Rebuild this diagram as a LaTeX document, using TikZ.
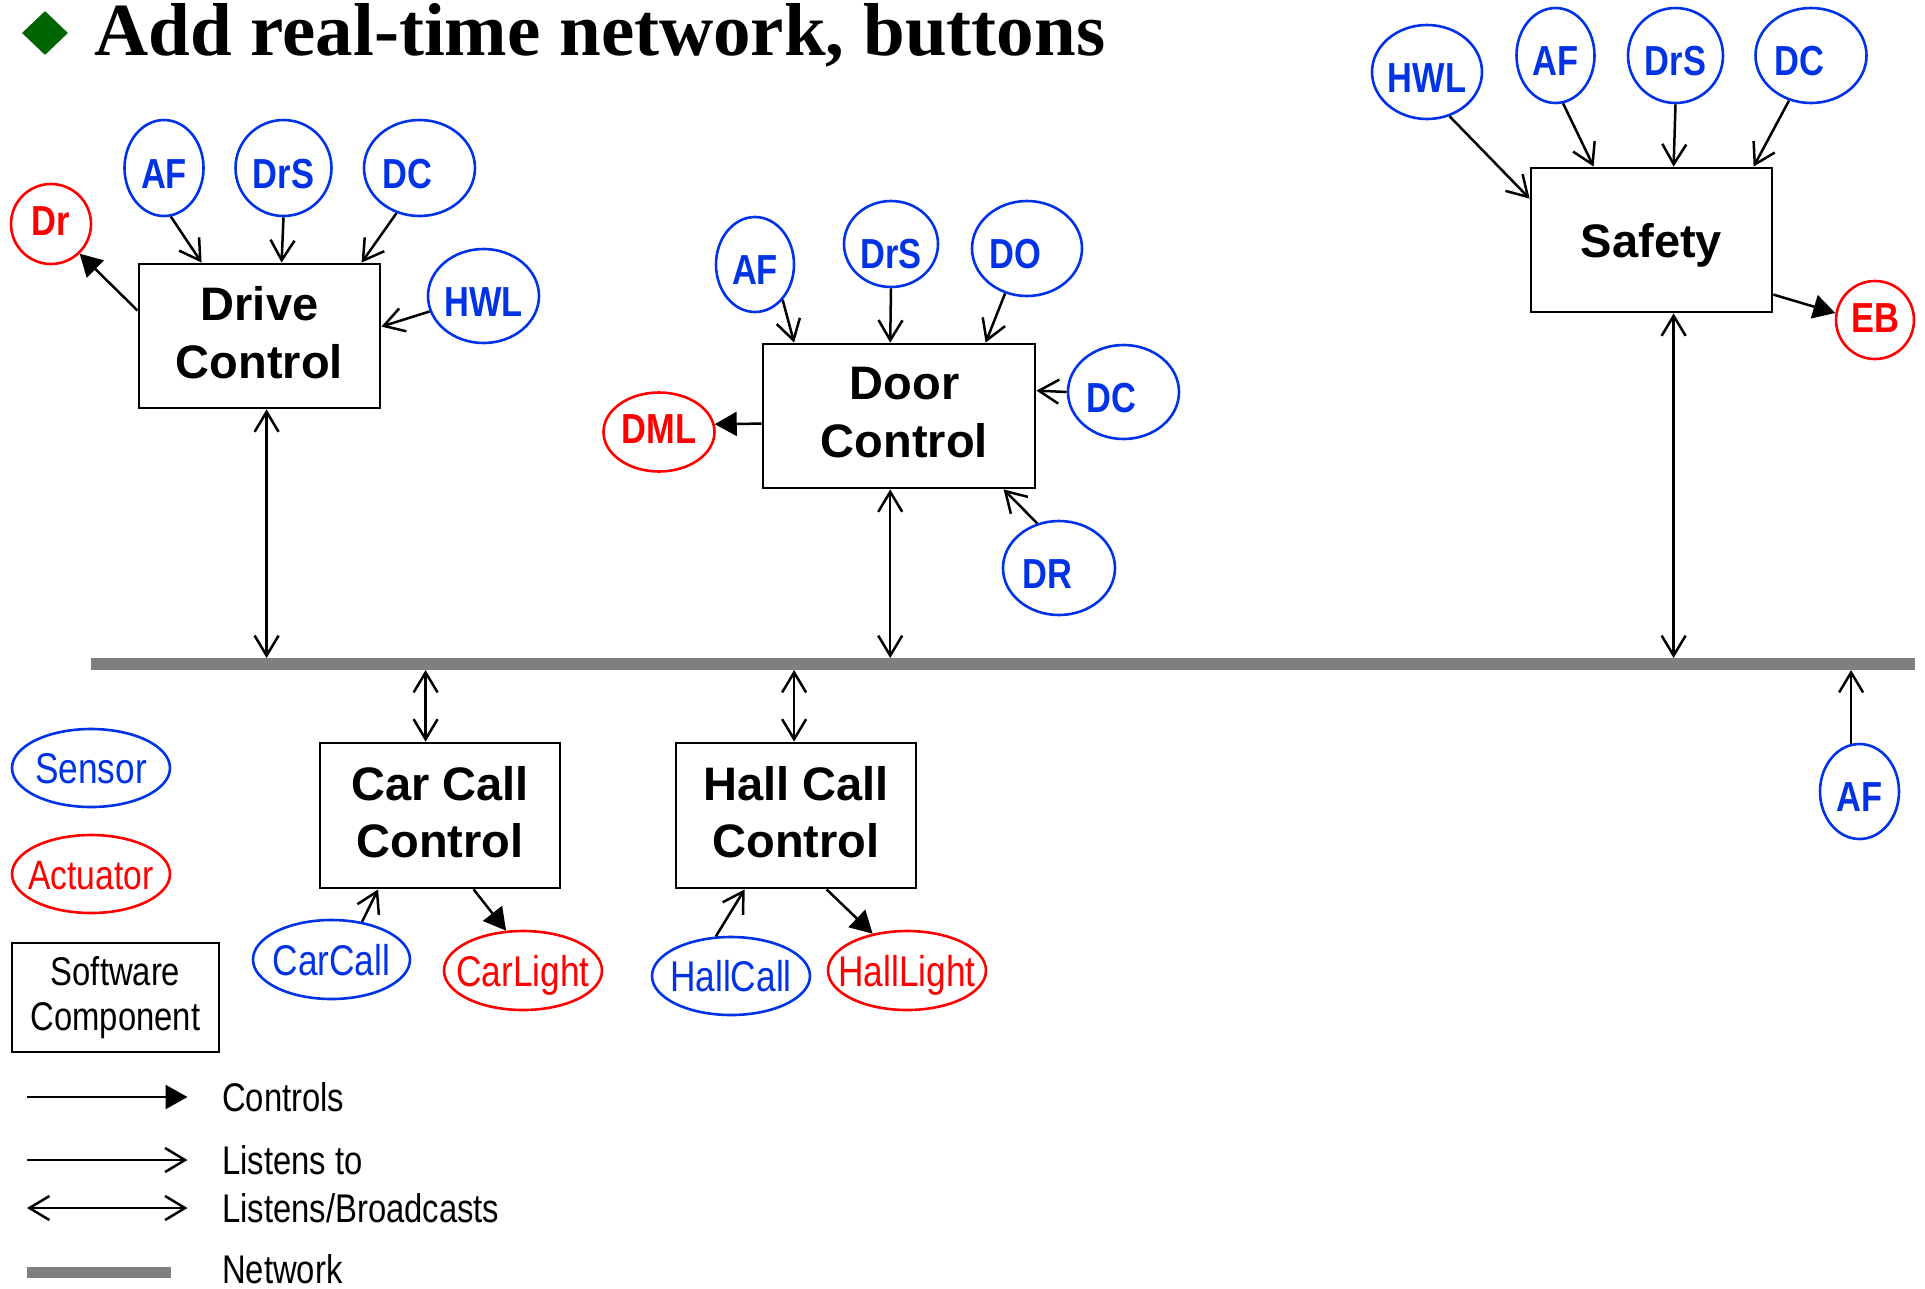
\documentclass[tikz,border=0pt]{standalone}
\usepackage{fontspec}
\setmainfont{Liberation Sans}
\newfontfamily\nfont{Liberation Sans}[FakeStretch=0.82]
\newfontfamily\tfont{Liberation Serif}
\usetikzlibrary{shapes.geometric,arrows.meta,calc}
\definecolor{sblue}{RGB}{0,51,230}
\definecolor{ared}{RGB}{255,0,0}
\definecolor{netgray}{RGB}{128,128,128}
\definecolor{dgreen}{RGB}{0,100,0}
\newcommand{\ez}[1]{\makebox[0pt]{#1}}
\newcommand{\ezl}[1]{\makebox[0pt]{\hspace*{-24pt}#1}}
\begin{document}
\begin{tikzpicture}[x=1pt,y=-1pt,
  sens/.style={ellipse, draw=sblue, text=sblue, line width=2.6pt, inner sep=0pt},
  act/.style={ellipse, draw=ared, text=ared, line width=2.6pt, inner sep=0pt},
  lbl/.style={font=\nfont\bfseries\fontsize{42}{46}\selectfont, text height=40pt, text depth=0pt},
  lblr/.style={font=\nfont\fontsize{43}{46}\selectfont, text height=31pt, text depth=0pt},
  comp/.style={draw=black, line width=2.8pt, inner sep=0pt, align=center, text depth=7pt, font=\bfseries\fontsize{47}{57.5}\selectfont},
  legt/.style={font=\nfont\fontsize{40}{44}\selectfont, inner sep=0pt},
  listen/.style={line width=2.5pt, -{Straight Barb[length=20pt,width=24pt]}},
  both/.style={line width=2.5pt, {Straight Barb[length=20pt,width=24pt]}-{Straight Barb[length=20pt,width=24pt]}},
  ctrl/.style={line width=2.5pt, -{Triangle[length=22pt,width=24pt]}}
]
\useasboundingbox (0,0) rectangle (1925,1288);

% title
\node[diamond, fill=dgreen, minimum width=46, minimum height=44, inner sep=0pt] (bullet) at (45,33) {};
\node[anchor=base west, inner sep=0pt, font=\tfont\bfseries\fontsize{75}{80}\selectfont] (title) at (94,55) {Add real-time network, buttons};

% network bus
\node[fill=netgray, minimum width=1824, minimum height=12, inner sep=0pt, outer sep=0pt] (bus) at (1003,664) {};

% Drive Control cluster
\node[comp, minimum width=241, minimum height=144] (drive) at (259.5,336) {Drive\\Control};
\node[act,lbl,text height=22pt,minimum width=80,minimum height=80] (dr) at (51,224) {\ez{Dr}};
\node[sens,lbl,minimum width=79,minimum height=96] (af1) at (164,168) {\ez{AF}};
\node[sens,lbl,minimum width=96,minimum height=96] (drs1) at (283.5,168) {\ez{DrS}};
\node[sens,lbl,minimum width=111,minimum height=96] (dc1) at (419.5,168) {\ezl{DC}};
\node[sens,lbl,minimum width=111,minimum height=94] (hwl1) at (483.5,296) {\ez{HWL}};
\draw[listen] (af1.-82) -- ($(drive.north west)+(64,0)$);
\draw[listen] (drs1.south) -- ($(drive.north west)+(144,0)$);
\draw[listen] (dc1.-117) -- ($(drive.north west)+(224,0)$);
\draw[listen] (hwl1.196) -- ($(drive.north east)+(0,64)$);
\draw[ctrl] ($(drive.north west)+(0,48)$) -- (dr.-46);
\path ($(drive.south west)+(129,0)$) coordinate (dv);
\draw[both] (dv) -- (dv |- bus.north);

% Door Control cluster
\node[comp, minimum width=272, minimum height=144] (door) at (899,416) {\hspace*{11pt}Door\\\hspace*{11pt}Control};
\node[sens,lbl,minimum width=78,minimum height=95] (af2) at (755,264.5) {\ez{AF}};
\node[sens,lbl,text height=48pt,minimum width=94,minimum height=86] (drs2) at (891,244) {\ez{DrS}};
\node[sens,lbl,minimum width=110,minimum height=95] (do2) at (1027,248.5) {\ezl{DO}};
\node[sens,lbl,minimum width=111,minimum height=94] (dc2) at (1123.5,392) {\ezl{DC}};
\node[act,lbl,text height=22pt,minimum width=111,minimum height=79] (dml) at (659,432) {\ez{DML}};
\node[sens,lbl,minimum width=112,minimum height=94] (dr2) at (1059,568) {\ezl{DR}};
\draw[listen] (af2.-52) -- ($(door.north west)+(32.5,0)$);
\draw[listen] (drs2.south) -- ($(door.north west)+(128.6,0)$);
\draw[listen] (do2.-116) -- ($(door.north west)+(224,0)$);
\draw[listen] (dc2.west) -- ($(door.north east)+(0,48)$);
\draw[listen] (dr2.116) -- ($(door.south west)+(242,0)$);
\draw[ctrl] ($(door.north west)+(0,81)$) -- (dml.8);
\path ($(door.south west)+(128.6,0)$) coordinate (ov);
\draw[both] (ov) -- (ov |- bus.north);

% Safety cluster
\node[comp, minimum width=241, minimum height=144, text height=34pt, text depth=0pt] (safety) at (1651.5,240) {Safety};
\node[sens,lbl,minimum width=110,minimum height=94] (hwl3) at (1427,72) {\ez{HWL}};
\node[sens,lbl,minimum width=78,minimum height=95] (af3) at (1555.5,55.5) {\ez{AF}};
\node[sens,lbl,minimum width=95,minimum height=95] (drs3) at (1675.5,55.5) {\ez{DrS}};
\node[sens,lbl,minimum width=111,minimum height=95] (dc3) at (1811,55.5) {\ezl{DC}};
\node[act,lbl,text height=25pt,minimum width=78,minimum height=78] (eb) at (1875,320) {\ez{EB}};
\draw[listen] (hwl3.-63) -- ($(safety.north west)+(0,32)$);
\draw[listen] (af3.-81) -- ($(safety.north west)+(64,0)$);
\draw[listen] (drs3.south) -- ($(safety.north west)+(144,0)$);
\draw[listen] (dc3.-116) -- ($(safety.north west)+(224,0)$);
\draw[ctrl] ($(safety.north east)+(0,128)$) -- (eb.170);
\path ($(safety.south west)+(144,0)$) coordinate (sv);
\draw[both] (sv) -- (sv |- bus.north);

% Car Call / Hall Call
\node[comp, minimum width=240, minimum height=145] (cc) at (440,815.5) {Car Call\\Control};
\node[comp, minimum width=240, minimum height=145] (hc) at (796,815.5) {Hall Call\\Control};
\node[sens,lblr,minimum width=157,minimum height=79] (carcall) at (331.5,959.5) {\ez{CarCall}};
\node[act,lblr,minimum width=158,minimum height=79] (carlight) at (523,970.5) {\ez{CarLight}};
\node[sens,lblr,minimum width=158,minimum height=78] (hallcall) at (731,976) {\ez{HallCall}};
\node[act,lblr,minimum width=158,minimum height=79] (halllight) at (907,970.5) {\ez{HallLight}};
\path ($(cc.north west)+(107,0)$) coordinate (cv);
\draw[both] (cv |- bus.south) -- (cv);
\path ($(hc.north west)+(119.5,0)$) coordinate (hv);
\draw[both] (hv |- bus.south) -- (hv);
\draw[listen] (carcall.51) -- ($(cc.south west)+(59.5,0)$);
\draw[ctrl] ($(cc.south west)+(155,0)$) -- (carlight.113);
\draw[listen] (hallcall.111) -- ($(hc.south west)+(70,0)$);
\draw[ctrl] ($(hc.south west)+(152,0)$) -- (halllight.133);

% AF on the right
\node[sens,lbl,minimum width=79,minimum height=95] (afr) at (1859.5,791.5) {\ez{AF}};
\draw[listen] (afr.100) -- (afr.100 |- bus.south);

% legend
\node[sens,lblr,minimum width=158,minimum height=78] (lsens) at (91,768) {\ez{Sensor}};
\node[act,lblr,font=\nfont\fontsize{41}{46}\selectfont,minimum width=158,minimum height=78] (lact) at (91,874) {\ez{Actuator}};
\node[draw, line width=2.8pt, minimum width=207, minimum height=109, inner sep=0pt, align=center, font=\nfont\fontsize{40}{45}\selectfont] (lsw) at (115.5,997.5) {Software\\Component};

\coordinate (c1s) at (27,1097); \coordinate (c1e) at (187.5,1097);
\draw[ctrl] (c1s) -- (c1e);
\node[legt, anchor=base west] (tc1) at (222,1111) {Controls};
\coordinate (c2s) at (27,1160); \coordinate (c2e) at (187.5,1160);
\draw[listen] (c2s) -- (c2e);
\node[legt, anchor=base west] (tc2) at (222,1174) {Listens to};
\coordinate (c3s) at (27,1208); \coordinate (c3e) at (187.5,1208);
\draw[both] (c3s) -- (c3e);
\node[legt, anchor=base west] (tc3) at (222,1222) {Listens/Broadcasts};
\coordinate (c4s) at (27,1272.5); \coordinate (c4e) at (171,1272.5);
\draw[netgray, line width=11pt] (c4s) -- (c4e);
\node[legt, anchor=base west] (tc4) at (222,1283) {Network};
\end{tikzpicture}
\end{document}
